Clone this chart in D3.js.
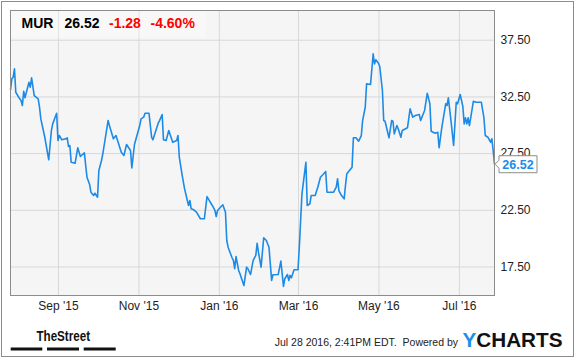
<!DOCTYPE html>
<html>
<head>
<meta charset="utf-8">
<script src="https://cdn.jsdelivr.net/npm/d3@7"></script>
<style>
  body { margin: 0; background: #fff; }
  svg { display: block; font-family: "Liberation Sans", Arial, sans-serif; }
</style>
</head>
<body>
<div id="chart"></div>
<script>
// MUR daily close, Jul 2015 - Jul 2016
const dates = [
  '2015-07-27','2015-07-28','2015-07-29','2015-07-30','2015-07-31','2015-08-03','2015-08-04','2015-08-05',
  '2015-08-06','2015-08-07','2015-08-10','2015-08-11','2015-08-12','2015-08-14','2015-08-17','2015-08-18',
  '2015-08-19','2015-08-22','2015-08-25','2015-08-27','2015-08-28','2015-08-31','2015-09-01','2015-09-02',
  '2015-09-04','2015-09-07','2015-09-08','2015-09-09','2015-09-10','2015-09-11','2015-09-14','2015-09-16',
  '2015-09-18','2015-09-21','2015-09-23','2015-09-25','2015-09-26','2015-09-28','2015-09-29','2015-10-01',
  '2015-10-02','2015-10-04','2015-10-05','2015-10-09','2015-10-10','2015-10-13','2015-10-15','2015-10-19',
  '2015-10-21','2015-10-23','2015-10-24','2015-10-26','2015-10-27','2015-10-29','2015-11-02','2015-11-03',
  '2015-11-05','2015-11-06','2015-11-09','2015-11-11','2015-11-12','2015-11-16','2015-11-17','2015-11-19',
  '2015-11-20','2015-11-22','2015-11-24','2015-11-27','2015-11-30','2015-12-01','2015-12-02','2015-12-04',
  '2015-12-06','2015-12-09','2015-12-10','2015-12-11','2015-12-13','2015-12-15','2015-12-18','2015-12-21',
  '2015-12-23','2015-12-27','2015-12-29','2015-12-30','2015-12-31','2016-01-04','2016-01-06','2016-01-07',
  '2016-01-08','2016-01-11','2016-01-12','2016-01-13','2016-01-14','2016-01-16','2016-01-17','2016-01-18',
  '2016-01-20','2016-01-22','2016-01-23','2016-01-25','2016-01-27','2016-01-29','2016-01-30','2016-01-31',
  '2016-02-02','2016-02-04','2016-02-06','2016-02-08','2016-02-10','2016-02-11','2016-02-15','2016-02-17',
  '2016-02-19','2016-02-20','2016-02-22','2016-02-23','2016-02-24','2016-02-25','2016-02-27','2016-03-01',
  '2016-03-02','2016-03-04','2016-03-07','2016-03-08','2016-03-10','2016-03-11','2016-03-14','2016-03-16',
  '2016-03-18','2016-03-20','2016-03-22','2016-03-23','2016-03-28','2016-03-30','2016-03-31','2016-04-01',
  '2016-04-03','2016-04-05','2016-04-06','2016-04-07','2016-04-11','2016-04-12','2016-04-14','2016-04-16',
  '2016-04-18','2016-04-19','2016-04-21','2016-04-22','2016-04-25','2016-04-27','2016-04-28','2016-04-29',
  '2016-05-01','2016-05-02','2016-05-04','2016-05-05','2016-05-06','2016-05-09','2016-05-11','2016-05-12',
  '2016-05-13','2016-05-15','2016-05-16','2016-05-18','2016-05-19','2016-05-23','2016-05-25','2016-05-27',
  '2016-05-29','2016-06-01','2016-06-02','2016-06-05','2016-06-07','2016-06-09','2016-06-10','2016-06-13',
  '2016-06-15','2016-06-16','2016-06-18','2016-06-21','2016-06-22','2016-06-23','2016-06-25','2016-06-27',
  '2016-06-29','2016-06-30','2016-07-02','2016-07-04','2016-07-05','2016-07-06','2016-07-07','2016-07-08',
  '2016-07-09','2016-07-12','2016-07-14','2016-07-18','2016-07-20','2016-07-21','2016-07-23','2016-07-25',
  '2016-07-26','2016-07-27','2016-07-28'
];
const prices = [
  33.08,34.05,34.19,34.93,32.87,32.29,32.14,31.70,
  32.96,32.38,33.75,33.31,34.14,32.58,32.29,31.55,
  30.52,28.90,26.91,29.49,30.08,31.02,28.61,29.05,
  28.67,28.76,28.85,28.08,28.17,26.70,26.61,27.97,
  27.20,27.53,25.37,24.73,24.05,23.76,23.96,23.61,
  25.97,26.85,27.44,30.37,29.93,28.76,29.05,27.58,
  27.29,28.26,28.08,27.73,26.20,28.26,29.93,30.52,
  30.67,31.02,31.02,28.90,28.67,30.14,30.37,30.90,
  28.67,28.61,29.49,28.46,28.61,29.05,27.14,25.67,
  24.35,22.88,23.32,22.59,22.50,22.29,21.71,21.71,
  23.67,22.88,22.44,21.91,22.44,22.94,22.29,19.79,
  19.20,18.27,18.03,17.30,18.38,17.15,16.86,16.50,
  15.82,17.44,17.30,16.79,18.03,18.47,19.55,18.76,
  17.44,20.03,19.79,19.20,16.27,16.77,16.79,17.97,
  15.74,16.42,16.79,16.27,16.71,16.50,17.21,17.21,
  19.20,23.91,26.70,22.88,23.03,23.76,23.76,24.49,
  25.37,25.61,25.88,24.05,24.05,24.49,25.23,24.20,
  23.76,23.47,24.64,25.67,26.26,28.85,28.85,28.55,
  29.05,30.37,31.55,33.61,33.55,36.26,35.37,35.73,
  35.43,35.14,33.02,30.37,30.31,28.85,30.37,30.31,
  29.20,29.93,29.64,28.90,29.49,29.73,31.41,30.67,
  30.82,30.90,30.37,31.26,32.78,31.85,29.43,29.25,
  29.34,27.97,29.73,31.85,31.70,32.38,30.37,28.17,
  31.99,31.85,32.67,31.61,30.08,30.61,30.08,30.61,
  29.93,32.08,31.99,31.99,30.61,29.05,28.90,28.46,
  28.76,27.73,26.52
];

const yTicks = [17.5, 22.5, 27.5, 32.5, 37.5];
const xTicks = ['2015-09-01','2015-11-01','2016-01-01','2016-03-01','2016-05-01','2016-07-01'];
const dateRange = ['2015-07-27','2016-07-28'];
const priceRange = [14.94, 40.08];

const ticker = 'MUR';
const lastPrice = '26.52';
const change = '-1.28';
const changePct = '-4.60%';
const stamp = 'Jul 28 2016, 2:41PM EDT.  Powered by';

const width = 575, height = 358;
const margin = { top: 10.5, right: 80.5, bottom: 62.5, left: 10.5 };
const innerW = width - margin.left - margin.right;
const innerH = height - margin.top - margin.bottom;

const parse = d3.timeParse('%Y-%m-%d');
const data = dates.map((d, i) => ({ date: parse(d), value: prices[i] }));

const svg = d3.select('#chart').append('svg')
  .attr('width', width)
  .attr('height', height);

// outer frame
svg.append('rect')
  .attr('x', 1.5).attr('y', 1.5)
  .attr('width', width - 3).attr('height', height - 3)
  .attr('fill', '#fff')
  .attr('stroke', '#8c8c8c');

const g = svg.append('g')
  .attr('transform', 'translate(' + margin.left + ',' + margin.top + ')');

const x = d3.scaleTime()
  .domain(dateRange.map(parse))
  .range([0, innerW]);

const y = d3.scaleLinear()
  .domain(priceRange)
  .range([innerH, 0]);

g.append('rect')
  .attr('width', innerW).attr('height', innerH)
  .attr('fill', '#f5f5f5');

// grid
g.append('g')
  .attr('class', 'grid')
  .call(d3.axisBottom(x).tickValues(xTicks.map(parse)).tickSize(innerH).tickFormat(''))
  .call(s => s.select('.domain').remove())
  .call(s => s.selectAll('line').attr('stroke', '#d8d8d8'));

g.append('g')
  .attr('class', 'grid')
  .call(d3.axisRight(y).tickValues(yTicks).tickSize(innerW).tickFormat(''))
  .call(s => s.select('.domain').remove())
  .call(s => s.selectAll('line').attr('stroke', '#d8d8d8'));

// header box
const header = g.append('g');
header.append('rect')
  .attr('width', 195).attr('height', 27)
  .attr('fill', '#fff').attr('fill-opacity', 0.3);

const headerItems = [
  { text: ticker, x: 11, color: '#000' },
  { text: lastPrice, x: 54, color: '#000' },
  { text: change, x: 98.5, color: '#f00' },
  { text: changePct, x: 140, color: '#f00' }
];
header.selectAll('text')
  .data(headerItems)
  .enter()
  .append('text')
  .attr('x', d => d.x)
  .attr('y', 17.5)
  .attr('font-size', 14)
  .attr('font-weight', 'bold')
  .attr('fill', d => d.color)
  .text(d => d.text);

// the price line
const line = d3.line()
  .x(d => x(d.date))
  .y(d => y(d.value));

g.append('path')
  .datum(data)
  .attr('fill', 'none')
  .attr('stroke', '#1d8be6')
  .attr('stroke-width', 1.6)
  .attr('stroke-linejoin', 'round')
  .attr('d', line);

// plot frame
g.append('rect')
  .attr('width', innerW).attr('height', innerH)
  .attr('fill', 'none')
  .attr('stroke', '#8c8c8c');

// axes labels
const xAxis = g.append('g')
  .attr('transform', 'translate(0,' + innerH + ')')
  .call(d3.axisBottom(x).tickValues(xTicks.map(parse)).tickSize(0).tickPadding(6)
    .tickFormat(d3.timeFormat("%b '%y")));
xAxis.select('.domain').remove();
xAxis.selectAll('text')
  .attr('font-size', 12)
  .attr('font-family', '"Liberation Sans", Arial, sans-serif')
  .attr('fill', '#222');

const yAxis = g.append('g')
  .attr('transform', 'translate(' + innerW + ',0)')
  .call(d3.axisRight(y).tickValues(yTicks).tickSize(0).tickPadding(6).tickFormat(d3.format('.2f')));
yAxis.select('.domain').remove();
yAxis.selectAll('text')
  .attr('font-size', 12)
  .attr('font-family', '"Liberation Sans", Arial, sans-serif')
  .attr('fill', '#222');

// last value flag
const last = data[data.length - 1];
const flag = g.append('g')
  .attr('transform', 'translate(' + x(last.date) + ',' + y(last.value) + ')');
flag.append('path')
  .attr('d', 'M0.5,0 L4.5,-4 L4.5,-8.5 L42.5,-8.5 L42.5,8.5 L4.5,8.5 L4.5,4 Z')
  .attr('fill', '#fff')
  .attr('stroke', '#8c8c8c');
flag.append('text')
  .attr('x', 23.5)
  .attr('y', 4.5)
  .attr('text-anchor', 'middle')
  .attr('font-size', 12.5)
  .attr('font-weight', 'bold')
  .attr('fill', '#1d8be6')
  .text(last.value.toFixed(2));

// footer
const footer = svg.append('g');
footer.append('text')
  .attr('x', 36.5).attr('y', 341)
  .attr('font-size', 15)
  .attr('font-weight', 'bold')
  .attr('textLength', 53.5)
  .attr('lengthAdjust', 'spacingAndGlyphs')
  .attr('fill', '#111')
  .text('TheStreet');
footer.selectAll('rect.dash')
  .data([[10.7, 42.3], [47, 79], [83.7, 115.7]])
  .enter()
  .append('rect')
  .attr('class', 'dash')
  .attr('x', d => d[0]).attr('y', 347.5)
  .attr('width', d => d[1] - d[0]).attr('height', 3)
  .attr('fill', '#111');

footer.append('text')
  .attr('x', 458).attr('y', 345.5)
  .attr('text-anchor', 'end')
  .attr('font-size', 10.5)
  .attr('fill', '#222')
  .style('white-space', 'pre')
  .text(stamp);

const logo = footer.append('text')
  .attr('x', 462.5).attr('y', 346.8)
  .attr('font-size', 21)
  .attr('font-weight', 900)
  .attr('textLength', 100)
  .attr('lengthAdjust', 'spacingAndGlyphs');
logo.append('tspan').attr('fill', '#1a8fe8').text('Y');
logo.append('tspan').attr('fill', '#111').text('CHARTS');
</script>
</body>
</html>
